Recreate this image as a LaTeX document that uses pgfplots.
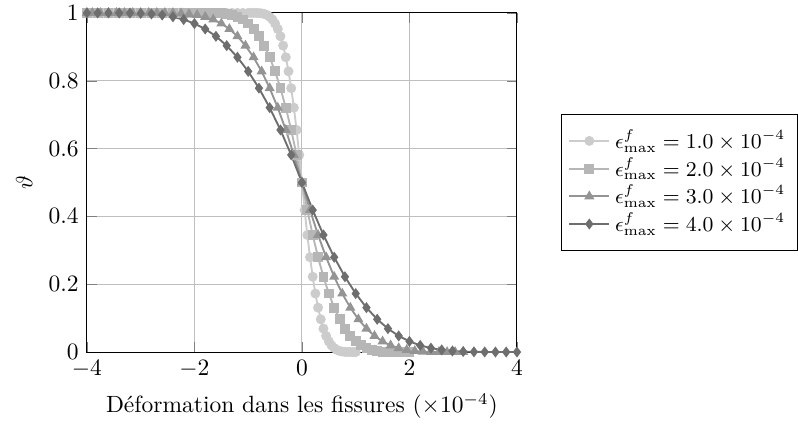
\documentclass[border=0pt]{standalone}
\usepackage{pgfplots}
\pgfplotsset{compat=1.18}

\definecolor{sa}{RGB}{204,204,204}
\definecolor{sb}{RGB}{182,182,182}
\definecolor{sc}{RGB}{148,148,148}
\definecolor{sd}{RGB}{110,110,110}

\begin{document}
\begin{tikzpicture}
  \useasboundingbox (-37pt,-32.3pt) rectangle (302.6pt,149.8pt);
  \begin{axis}[
      scale only axis,
      width=183pt, height=144.3pt,
      xmin=-4, xmax=4, ymin=0, ymax=1,
      xtick={-4,-2,0,2,4},
      ytick={0,0.2,0.4,0.6,0.8,1},
      grid=major,
      xlabel={D\'eformation dans les fissures ($\times 10^{-4}$)},
      ylabel={$\vartheta$},
      legend style={at={(1.102,0.5)}, anchor=west, cells={anchor=west},
        font=\small, row sep=-1.7pt, inner ysep=4.5pt},
      every axis plot/.append style={thick, mark size=1.7pt},
      clip=false,
    ]
    % eps = 1
    \addplot[sa, mark=*, mark options={solid, fill=sa, draw=sa}] coordinates {
      (-4.0,1) (-3.9,1) (-3.8,1) (-3.7,1) (-3.6,1) (-3.5,1) (-3.4,1) (-3.3,1)
      (-3.2,1) (-3.1,1) (-3.0,1) (-2.9,1) (-2.8,1) (-2.7,1) (-2.6,1) (-2.5,1)
      (-2.4,1) (-2.3,1) (-2.2,1) (-2.1,1) (-2.0,1) (-1.9,1) (-1.8,1) (-1.7,1)
      (-1.6,1) (-1.5,1) (-1.4,1) (-1.3,1) (-1.2,1) (-1.1,1)
      (-1.00,1) (-0.95,1) (-0.90,1) (-0.85,0.9999) (-0.80,0.9996) (-0.75,0.9987)
      (-0.70,0.9970) (-0.65,0.9938) (-0.60,0.9885) (-0.55,0.9805) (-0.50,0.9687)
      (-0.45,0.9526) (-0.40,0.9311) (-0.35,0.9035) (-0.30,0.8692) (-0.25,0.8276)
      (-0.20,0.7781) (-0.15,0.7205) (-0.10,0.6549) (-0.05,0.5813) (0.00,0.5)
      (0.05,0.4187) (0.10,0.3451) (0.15,0.2795) (0.20,0.2219) (0.25,0.1724)
      (0.30,0.1308) (0.35,0.0965) (0.40,0.0689) (0.45,0.0474) (0.50,0.0313)
      (0.55,0.0195) (0.60,0.0115) (0.65,0.0062) (0.70,0.0030) (0.75,0.0013)
      (0.80,0.0004) (0.85,0.0001) (0.90,0) (0.95,0) (1.00,0)
    };
    \addlegendentry{$\epsilon^f_{\max} = 1.0 \times 10^{-4}$}
    % eps = 2
    \addplot[sb, mark=square*, mark options={solid, fill=sb, draw=sb}] coordinates {
      (-4.0,1) (-3.8,1) (-3.6,1) (-3.4,1) (-3.2,1) (-3.0,1) (-2.8,1) (-2.6,1)
      (-2.4,1) (-2.2,1)
      (-2.0,1) (-1.9,1) (-1.8,1) (-1.7,0.9999) (-1.6,0.9996) (-1.5,0.9987)
      (-1.4,0.9970) (-1.3,0.9938) (-1.2,0.9885) (-1.1,0.9805) (-1.0,0.9687)
      (-0.9,0.9526) (-0.8,0.9311) (-0.7,0.9035) (-0.6,0.8692) (-0.5,0.8276)
      (-0.4,0.7781) (-0.3,0.7205) (-0.2,0.6549) (-0.1,0.5813) (0.0,0.5)
      (0.1,0.4187) (0.2,0.3451) (0.3,0.2795) (0.4,0.2219) (0.5,0.1724)
      (0.6,0.1308) (0.7,0.0965) (0.8,0.0689) (0.9,0.0474) (1.0,0.0313)
      (1.1,0.0195) (1.2,0.0115) (1.3,0.0062) (1.4,0.0030) (1.5,0.0013)
      (1.6,0.0004) (1.7,0.0001) (1.8,0) (1.9,0) (2.0,0)
    };
    \addlegendentry{$\epsilon^f_{\max} = 2.0 \times 10^{-4}$}
    % eps = 3
    \addplot[sc, mark=triangle*, mark options={solid, fill=sc, draw=sc}] coordinates {
      (-4.0,1) (-3.9,1) (-3.75,1) (-3.6,1) (-3.45,1) (-3.3,1) (-3.15,1)
      (-3.00,1) (-2.85,1) (-2.70,1) (-2.55,0.9999) (-2.40,0.9996) (-2.25,0.9987)
      (-2.10,0.9970) (-1.95,0.9938) (-1.80,0.9885) (-1.65,0.9805) (-1.50,0.9687)
      (-1.35,0.9526) (-1.20,0.9311) (-1.05,0.9035) (-0.90,0.8692) (-0.75,0.8276)
      (-0.60,0.7781) (-0.45,0.7205) (-0.30,0.6549) (-0.15,0.5813) (0.00,0.5)
      (0.15,0.4187) (0.30,0.3451) (0.45,0.2795) (0.60,0.2219) (0.75,0.1724)
      (0.90,0.1308) (1.05,0.0965) (1.20,0.0689) (1.35,0.0474) (1.50,0.0313)
      (1.65,0.0195) (1.80,0.0115) (1.95,0.0062) (2.10,0.0030) (2.25,0.0013)
      (2.40,0.0004) (2.55,0.0001) (2.70,0) (2.85,0) (3.00,0)
    };
    \addlegendentry{$\epsilon^f_{\max} = 3.0 \times 10^{-4}$}
    % eps = 4
    \addplot[sd, mark=diamond*, mark options={solid, fill=sd, draw=sd}] coordinates {
      (-4.0,1) (-3.8,1) (-3.6,1) (-3.4,0.9999) (-3.2,0.9996) (-3.0,0.9987)
      (-2.8,0.9970) (-2.6,0.9938) (-2.4,0.9885) (-2.2,0.9805) (-2.0,0.9687)
      (-1.8,0.9526) (-1.6,0.9311) (-1.4,0.9035) (-1.2,0.8692) (-1.0,0.8276)
      (-0.8,0.7781) (-0.6,0.7205) (-0.4,0.6549) (-0.2,0.5813) (0.0,0.5)
      (0.2,0.4187) (0.4,0.3451) (0.6,0.2795) (0.8,0.2219) (1.0,0.1724)
      (1.2,0.1308) (1.4,0.0965) (1.6,0.0689) (1.8,0.0474) (2.0,0.0313)
      (2.2,0.0195) (2.4,0.0115) (2.6,0.0062) (2.8,0.0030) (3.0,0.0013)
      (3.2,0.0004) (3.4,0.0001) (3.6,0) (3.8,0) (4.0,0)
    };
    \addlegendentry{$\epsilon^f_{\max} = 4.0 \times 10^{-4}$}
  \end{axis}
\end{tikzpicture}
\end{document}
